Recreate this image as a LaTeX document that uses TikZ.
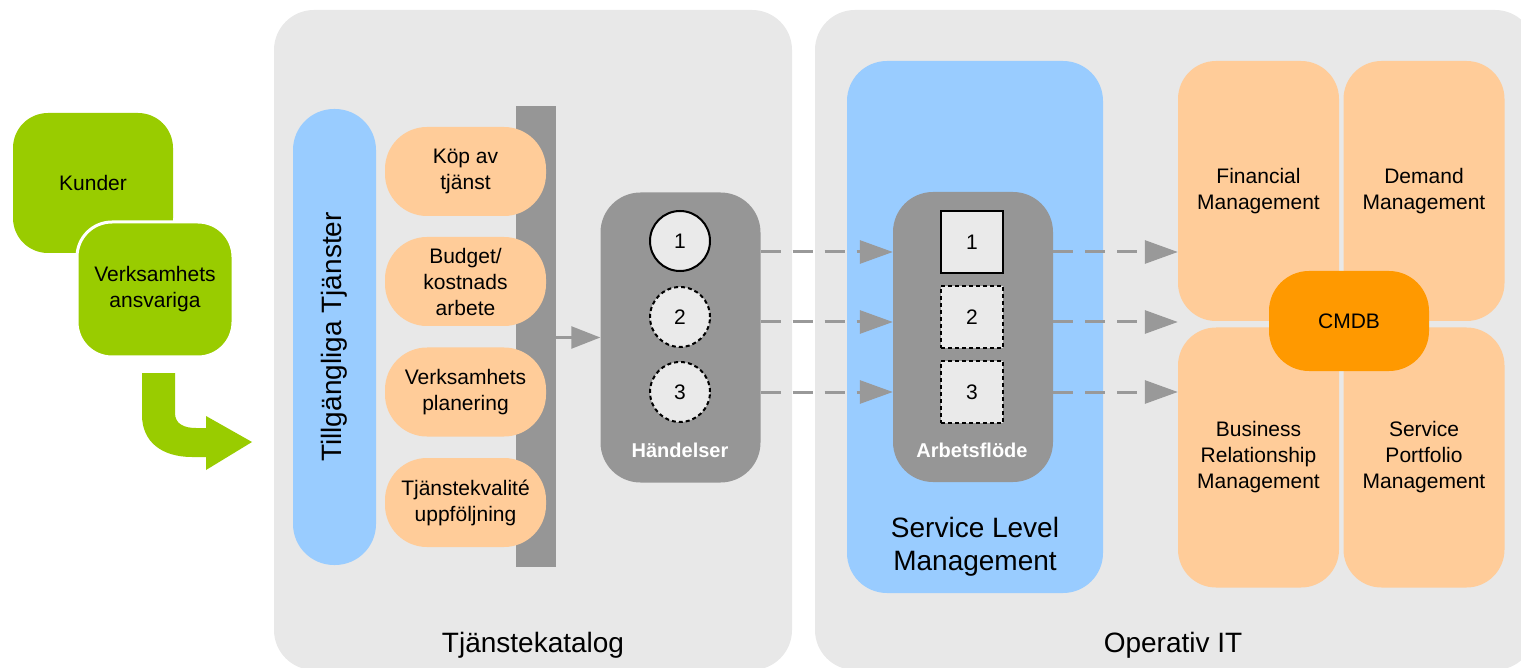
\documentclass[tikz,border=0pt]{standalone}
\usepackage{fontspec}
\setmainfont{Liberation Sans}
\usetikzlibrary{arrows.meta}
\definecolor{panelgray}{HTML}{E8E8E8}
\definecolor{skyblue}{HTML}{99CCFF}
\definecolor{peach}{HTML}{FFCC99}
\definecolor{cmdborange}{HTML}{FF9900}
\definecolor{limegreen}{HTML}{99CC00}
\definecolor{boxgray}{HTML}{969696}
\definecolor{itemgray}{HTML}{EAEAEA}
\definecolor{arrowgray}{HTML}{999999}
\begin{document}
\begin{tikzpicture}[x=1pt,y=-1pt,
    txt/.style={font=\fontsize{21}{26}\selectfont, align=center, inner sep=0pt},
    bigtxt/.style={font=\fontsize{28}{33}\selectfont, align=center, inner sep=0pt},
    boldlbl/.style={text=white, font=\fontsize{20}{24}\selectfont\bfseries, inner sep=0pt},
    panel/.style={fill=panelgray, rounded corners=40pt, minimum width=#1, minimum height=660pt, inner sep=0pt},
    grn/.style={txt, fill=limegreen, rounded corners=35pt},
    item/.style={txt, fill=peach, rounded corners=42pt, minimum width=161pt, minimum height=89pt},
    grbox/.style={fill=boxgray, rounded corners=40pt, minimum width=160pt, minimum height=290pt, inner sep=0pt},
    evt/.style={txt, circle, draw=black, line width=2pt, fill=itemgray, minimum size=60pt},
    task/.style={txt, draw=black, line width=2pt, fill=itemgray, minimum size=62pt},
    later/.style={dash pattern=on 4pt off 3pt},
    proc/.style={txt, fill=peach, rounded corners=38pt, minimum width=161pt, minimum height=260pt},
    flow/.style={draw=arrowgray, line width=3pt, dash pattern=on 20pt off 12pt, -{Triangle[length=33pt,width=23pt]}}]
    \useasboundingbox (0,0) rectangle (1521,668);
    \fill[white] (0,0) rectangle (1521,668);
    \clip (0,0) rectangle (1521,668);
    \node[panel=518pt] (kat) at (533,340) {};
    \node[panel=720pt] (ops) at (1175,340) {};
    \node[bigtxt] at (533,645) {Tjänstekatalog};
    \node[bigtxt] at (1173,645) {Operativ IT};
    \node[grn, minimum width=160pt, minimum height=140pt] (kunder) at (93,183) {Kunder};
    \node[grn, draw=white, line width=3pt, minimum width=156pt, minimum height=135pt] (verks) at (155,289.5) {Verksamhets\\ansvariga};
    \fill[limegreen] (142,373) -- (142,415) .. controls (142,442) and (162,457) .. (192,457)
        -- (206,457) -- (206,470) -- (252,442) -- (206,416) -- (206,428) -- (196,428)
        .. controls (184,428) and (175,424) .. (175,413) -- (175,373) -- cycle;
    \node[bigtxt, fill=skyblue, rounded corners=41pt, rotate=90, minimum width=456pt, minimum height=83pt] (tillg) at (334.5,337) {Tillgängliga Tjänster};
    \node[fill=boxgray, minimum width=40pt, minimum height=461pt, inner sep=0pt] (bar) at (536,336.5) {};
    \node[item] (kop) at (465.5,171.5) {Köp av\\tjänst};
    \node[item] (budget) at (465.5,281.5) {Budget/\\kostnads\\arbete};
    \node[item] (plan) at (465.5,392) {Verksamhets\\planering};
    \node[item] (kval) at (465.5,502.5) {Tjänstekvalité\\uppföljning};
    \node[grbox] (hand) at (680.5,337.5) {};
    \node[evt] (h1) at (680,241) {1};
    \node[evt, later] (h2) at (680,317) {2};
    \node[evt, later] (h3) at (680,392) {3};
    \node[boldlbl] at (680,450) {Händelser};
    \draw[arrowgray, line width=2.5pt, -{Triangle[length=29pt,width=22pt]}] (bar.east |- hand.west) -- (hand.west);
    \node[fill=skyblue, rounded corners=40pt, minimum width=256pt, minimum height=532pt] (slm) at (975,327) {};
    \node[bigtxt] at (975,546.5) {Service Level\\Management};
    \node[grbox] (arb) at (973,337) {};
    \node[task] (a1) at (972,242) {1};
    \node[task, later] (a2) at (972,317) {2};
    \node[task, later] (a3) at (972,392) {3};
    \node[boldlbl] at (972,450) {Arbetsflöde};
    \node[proc] (fm) at (1258.5,191) {Financial\\Management};
    \node[proc] (dm) at (1424,191) {Demand\\Management};
    \node[proc] (brm) at (1258.5,457.5) {Business\\Relationship\\Management};
    \node[proc] (spm) at (1424,457.5) {Service\\Portfolio\\Management};
    \node[txt, fill=cmdborange, rounded corners=40pt, minimum width=160pt, minimum height=100pt] (cmdb) at (1349,321) {CMDB};
    \coordinate (r1) at (0,252);
    \coordinate (r2) at (0,322);
    \coordinate (r3) at (0,392);
    \foreach \r in {r1,r2,r3} {
        \draw[flow] (hand.east |- \r) -- (arb.west |- \r);
        \draw[flow] (arb.east |- \r) -- (fm.west |- \r);
    }
\end{tikzpicture}
\end{document}
